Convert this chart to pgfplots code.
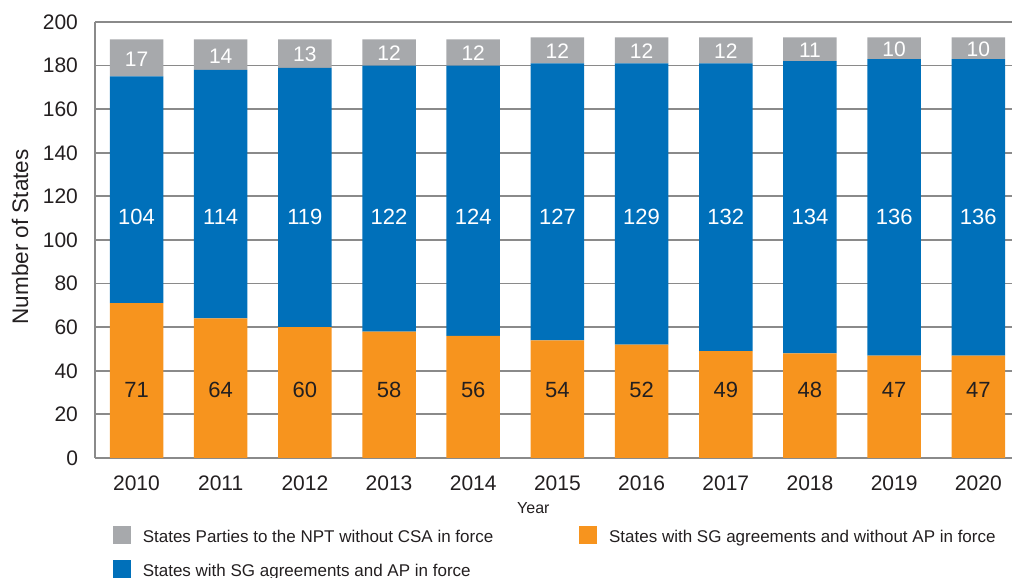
\documentclass[border=0pt]{standalone}
\usepackage{pgfplots}
\usepackage{pgfplotstable}
\pgfplotsset{compat=1.18}
\usepackage{fontspec}
\setmainfont{Liberation Sans}
\definecolor{sgray}{HTML}{A7A9AC}
\definecolor{sblue}{HTML}{0070BA}
\definecolor{sorange}{HTML}{F7941E}
\definecolor{txt}{HTML}{231F20}
\definecolor{gridc}{HTML}{8A8A8A}

\pgfplotstableread{
x ya yb yc
0 71 104 17
1 64 114 14
2 60 119 13
3 58 122 12
4 56 124 12
5 54 127 12
6 52 129 12
7 49 132 12
8 48 134 11
9 47 136 10
10 47 136 10
}\datatable

\pgfplotstableread{
x yo lo yb lb yg lg
0 31 71 110.5 104 183 17
1 31 64 110.5 114 184.5 14
2 31 60 110.5 119 185 13
3 31 58 110.5 122 185.5 12
4 31 56 110.5 124 185.5 12
5 31 54 110.5 127 186.5 12
6 31 52 110.5 129 186.5 12
7 31 49 110.5 132 186.5 12
8 31 48 110.5 134 187 11
9 31 47 110.5 136 187.5 10
10 31 47 110.5 136 187.5 10
}\labeltable

\begin{document}
\begin{tikzpicture}
\useasboundingbox (0,0) rectangle (506pt,289pt);
\pgfplotsset{base/.style={
  at={(47.5pt,60pt)}, anchor=south west, scale only axis,
  width=458.5pt, height=218pt,
  xmin=-0.493, xmax=10.40, ymin=0, ymax=200}}
\begin{axis}[base, ybar stacked, bar width=26.75pt,
  axis x line*=bottom, axis y line*=left,
  x axis line style={-, gridc, line width=1pt},
  y axis line style={-, gridc, line width=1pt},
  major tick length=0pt,
  ytick={0,20,...,200},
  xtick={0,...,10},
  xticklabels={2010,2011,2012,2013,2014,2015,2016,2017,2018,2019,2020},
  ymajorgrids, grid style={gridc, line width=0.9pt},
  tick label style={font=\fontsize{10.5}{12}\selectfont, text=txt},
  xticklabel style={yshift=-5.5pt},
  yticklabel style={xshift=-5pt},
  /pgf/number format/assume math mode=true,
  xlabel={Year},
  xlabel style={at={(axis description cs:0.478,-0.115)}, anchor=center, font=\fontsize{8}{10}\selectfont, text=txt},
  ylabel={Number of States},
  ylabel style={at={(axis description cs:-0.0818,0.507)}, anchor=center, font=\fontsize{11.25}{13}\selectfont, text=txt},
  legend columns=2,
  legend cell align=left,
  legend style={draw=none, fill=none, inner sep=0pt, outer sep=0pt,
    at={(axis description cs:0.0196,-0.156)}, anchor=north west,
    font=\fontsize{8.5}{10}\selectfont, text=txt,
    nodes={inner sep=0pt}, column sep=6pt, row sep=7.5pt,
    /tikz/every even column/.append style={column sep=43pt}},
]
\addlegendimage{legend image code/.code={\fill[sgray] (0pt,-3pt) rectangle (8.5pt,5.5pt);}}
\addlegendentry{States Parties to the NPT without CSA in force}
\addlegendimage{legend image code/.code={\fill[sorange] (0pt,-3pt) rectangle (8.5pt,5.5pt);}}
\addlegendentry{States with SG agreements and without AP in force}
\addlegendimage{legend image code/.code={\fill[sblue] (0pt,-3pt) rectangle (8.5pt,5.5pt);}}
\addlegendentry{States with SG agreements and AP in force}
\addplot[fill=sorange, draw=none, forget plot] table[x=x, y=ya] {\datatable};
\addplot[fill=sblue, draw=none, forget plot] table[x=x, y=yb] {\datatable};
\addplot[fill=sgray, draw=none, forget plot] table[x=x, y=yc] {\datatable};
\end{axis}
\begin{axis}[base, hide axis,
  nodes near coords, point meta=explicit symbolic,
  nodes near coords style={anchor=center, inner sep=0pt},
]
\addplot[draw=none, mark=none, nodes near coords style={text=txt, font=\fontsize{11}{13}\selectfont}] table[x=x, y=yo, meta=lo] {\labeltable};
\addplot[draw=none, mark=none, nodes near coords style={text=white, font=\fontsize{11}{13}\selectfont}] table[x=x, y=yb, meta=lb] {\labeltable};
\addplot[draw=none, mark=none, nodes near coords style={text=white, font=\fontsize{10.5}{12}\selectfont}] table[x=x, y=yg, meta=lg] {\labeltable};
\end{axis}
\end{tikzpicture}
\end{document}
